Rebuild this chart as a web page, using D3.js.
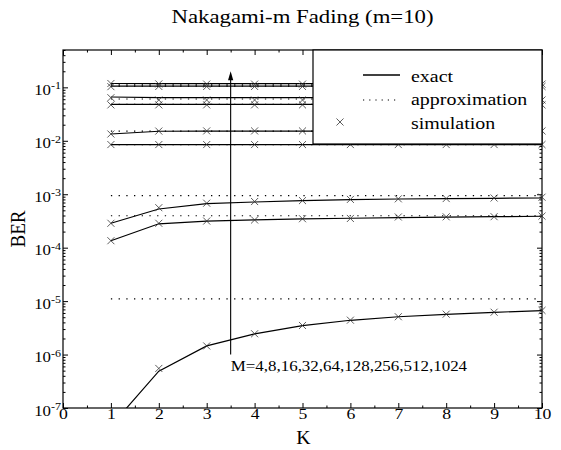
<!DOCTYPE html>
<html>
<head>
<meta charset="utf-8">
<script src="https://cdn.jsdelivr.net/npm/d3@7"></script>
<style>
  html, body { margin: 0; padding: 0; background: #fff; }
  svg { display: block; }
  text { font-family: "Liberation Serif", "Times New Roman", Times, serif; fill: #000; }
</style>
</head>
<body>
<svg id="chart" width="561" height="450"></svg>
<script>
// ---------------- data ----------------
const K = [1, 2, 3, 4, 5, 6, 7, 8, 9, 10];
const Mlabels = [4, 8, 16, 32, 64, 128, 256, 512, 1024];

// exact BER curves (one per M)
const exactM4    = [4.6e-8, 4.9e-7, 1.45e-6, 2.43e-6, 3.47e-6, 4.38e-6, 5.1e-6, 5.67e-6, 6.18e-6, 6.62e-6];
const exactM8    = [1.35e-4, 2.8e-4, 3.15e-4, 3.32e-4, 3.45e-4, 3.55e-4, 3.65e-4, 3.72e-4, 3.8e-4, 3.87e-4];
const exactM16   = [2.86e-4, 5.3e-4, 6.65e-4, 7.16e-4, 7.57e-4, 7.91e-4, 8.15e-4, 8.25e-4, 8.4e-4, 8.51e-4];
const exactM32   = [0.0085, 0.0085, 0.0085, 0.0085, 0.0085, 0.0085, 0.0085, 0.0085, 0.0085, 0.0085];
const exactM64   = [0.0134, 0.0151, 0.0152, 0.0152, 0.0152, 0.0152, 0.0152, 0.0152, 0.0152, 0.0152];
const exactM128  = [0.048, 0.048, 0.048, 0.048, 0.048, 0.048, 0.048, 0.048, 0.048, 0.048];
const exactM256  = [0.066, 0.0645, 0.064, 0.064, 0.064, 0.064, 0.064, 0.064, 0.064, 0.064];
const exactM512  = [0.105, 0.105, 0.105, 0.105, 0.105, 0.105, 0.105, 0.105, 0.105, 0.105];
const exactM1024 = [0.118, 0.117, 0.117, 0.117, 0.117, 0.117, 0.117, 0.117, 0.117, 0.117];

// approximation (flat in K)
const approxValues = [1.1e-5, 3.96e-4, 9.4e-4, 0.0085, 0.0152, 0.048, 0.0605, 0.105, 0.111];

// simulation points
const simM4    = [null, 5.5e-7, 1.45e-6, 2.45e-6, 3.5e-6, 4.4e-6, 5.1e-6, 5.7e-6, 6.2e-6, 6.7e-6];
const simM8    = [1.35e-4, 2.86e-4, 3.15e-4, 3.3e-4, 3.48e-4, 3.52e-4, 3.75e-4, 3.78e-4, 3.8e-4, 3.9e-4];
const simM16   = [2.86e-4, 5.6e-4, 6.8e-4, 7.3e-4, 7.6e-4, 8.0e-4, 8.2e-4, 8.3e-4, 8.5e-4, 8.8e-4];
const simM32   = [0.0085, 0.0085, 0.0085, 0.0085, 0.0085, 0.0085, 0.0085, 0.0085, 0.0085, 0.0085];
const simM64   = [0.0134, 0.0152, 0.0153, 0.0153, 0.0153, 0.0153, 0.0153, 0.0153, 0.0153, 0.0153];
const simM128  = [0.047, 0.047, 0.047, 0.047, 0.047, 0.047, 0.047, 0.047, 0.047, 0.047];
const simM256  = [0.064, 0.058, 0.058, 0.058, 0.058, 0.058, 0.058, 0.058, 0.058, 0.058];
const simM512  = [0.103, 0.104, 0.104, 0.104, 0.104, 0.104, 0.104, 0.104, 0.104, 0.104];
const simM1024 = [0.118, 0.116, 0.115, 0.115, 0.115, 0.115, 0.115, 0.115, 0.115, 0.115];

const xTicks = [0, 1, 2, 3, 4, 5, 6, 7, 8, 9, 10];
const yTickExps = [-7, -6, -5, -4, -3, -2, -1];
const legendLabels = ["exact", "approximation", "simulation"];
const titleText = "Nakagami-m Fading (m=10)";
const annotText = "M=4,8,16,32,64,128,256,512,1024";

const exactSeries = [exactM4, exactM8, exactM16, exactM32, exactM64, exactM128, exactM256, exactM512, exactM1024];
const simSeries = [simM4, simM8, simM16, simM32, simM64, simM128, simM256, simM512, simM1024];

// ---------------- layout ----------------
const L = 63, R = 542, T = 50, B = 408;
const svg = d3.select("#chart");
const x = d3.scaleLinear().domain([0, 10]).range([L, R]);
const y = d3.scaleLog().domain([1e-7, 0.5]).range([B, T]);

function stretchedText(g, px, py, str, size, anchor, sx) {
  const gg = g.append("g").attr("transform", `translate(${px},${py}) scale(${sx},1)`);
  return gg.append("text").attr("text-anchor", anchor || "start")
    .attr("font-size", size).text(str);
}

svg.append("defs").append("clipPath").attr("id", "plotclip")
  .append("rect").attr("x", L).attr("y", T).attr("width", R - L).attr("height", B - T);

// ---------------- axes ----------------
const majorY = yTickExps.map(e => Math.pow(10, e));
const minorY = [];
yTickExps.forEach(e => { for (let m = 2; m <= 9; m++) { const v = m * Math.pow(10, e); if (v <= 0.5) minorY.push(v); } });
const minorX = d3.range(0.5, 10, 1);

function styleAxis(g) {
  g.select(".domain").remove();
  g.selectAll(".tick line").attr("stroke", "#000").attr("stroke-width", 1);
}

// left
const ySX = 1.2;
const gLeft = svg.append("g").attr("transform", `translate(${L},0)`)
  .call(d3.axisLeft(y).tickValues(majorY).tickSizeInner(-5).tickSizeOuter(0).tickPadding(2)
    .tickFormat(() => "10"));
styleAxis(gLeft);
gLeft.selectAll(".tick text").each(function(d) {
  const t = d3.select(this);
  const e = Math.round(Math.log10(d));
  t.text(null).attr("dy", null).attr("y", 7).attr("x", -2 / ySX)
    .attr("transform", `scale(${ySX},1)`)
    .attr("font-size", 14).attr("font-family", "Liberation Serif, serif");
  t.append("tspan").text("10");
  t.append("tspan").attr("dy", -5.5).attr("font-size", 10).text(String(e));
});
const gLeftMinor = svg.append("g").attr("transform", `translate(${L},0)`)
  .call(d3.axisLeft(y).tickValues(minorY).tickSizeInner(-2.5).tickSizeOuter(0).tickFormat(""));
styleAxis(gLeftMinor);

// right
const gRight = svg.append("g").attr("transform", `translate(${R},0)`)
  .call(d3.axisRight(y).tickValues(majorY).tickSizeInner(-5).tickSizeOuter(0).tickFormat(""));
styleAxis(gRight);
const gRightMinor = svg.append("g").attr("transform", `translate(${R},0)`)
  .call(d3.axisRight(y).tickValues(minorY).tickSizeInner(-2.5).tickSizeOuter(0).tickFormat(""));
styleAxis(gRightMinor);

// bottom
const gBottom = svg.append("g").attr("transform", `translate(0,${B})`)
  .call(d3.axisBottom(x).tickValues(xTicks).tickSizeInner(-5).tickSizeOuter(0).tickPadding(0)
    .tickFormat(d3.format("d")));
styleAxis(gBottom);
gBottom.selectAll(".tick text").attr("font-size", 14.5).attr("font-family", "Liberation Serif, serif")
  .attr("transform", "scale(1.22,1)").attr("dy", null).attr("y", 11);
const gBottomMinor = svg.append("g").attr("transform", `translate(0,${B})`)
  .call(d3.axisBottom(x).tickValues(minorX).tickSizeInner(-2.5).tickSizeOuter(0).tickFormat(""));
styleAxis(gBottomMinor);

// top
const gTop = svg.append("g").attr("transform", `translate(0,${T})`)
  .call(d3.axisTop(x).tickValues(xTicks).tickSizeInner(-5).tickSizeOuter(0).tickFormat(""));
styleAxis(gTop);
const gTopMinor = svg.append("g").attr("transform", `translate(0,${T})`)
  .call(d3.axisTop(x).tickValues(minorX).tickSizeInner(-2.5).tickSizeOuter(0).tickFormat(""));
styleAxis(gTopMinor);

// frame
svg.append("rect").attr("x", L).attr("y", T).attr("width", R - L).attr("height", B - T)
  .attr("fill", "none").attr("stroke", "#000").attr("stroke-width", 1.2);

// ---------------- data marks ----------------
const plot = svg.append("g").attr("clip-path", "url(#plotclip)");

// approximations
plot.selectAll("path.approx").data(approxValues).join("path")
  .attr("class", "approx")
  .attr("d", v => d3.line().x(d => x(d)).y(() => y(v))([K[0], K[K.length - 1]]))
  .attr("fill", "none").attr("stroke", "#000").attr("stroke-width", 1.2)
  .attr("stroke-dasharray", "1.3,6.4");

// exact
const lineGen = d3.line().x((d, i) => x(K[i])).y(d => y(d));
plot.selectAll("path.exact").data(exactSeries).join("path")
  .attr("class", "exact").attr("d", lineGen)
  .attr("fill", "none").attr("stroke", "#000").attr("stroke-width", 1.2);

// simulation markers
const sym = d3.symbol(d3.symbolX, 34);
const simPts = [];
simSeries.forEach(s => s.forEach((v, i) => { if (v !== null) simPts.push([K[i], v]); }));
svg.append("g").selectAll("path").data(simPts).join("path")
  .attr("transform", d => `translate(${x(d[0])},${y(d[1])})`)
  .attr("d", sym).attr("fill", "none").attr("stroke", "#333").attr("stroke-width", 0.8);

// ---------------- arrow & annotation ----------------
const ax = x(3.5), ay0 = y(1e-6), ay1 = y(0.2);
svg.append("line").attr("x1", ax).attr("x2", ax).attr("y1", ay0).attr("y2", ay1 + 6)
  .attr("stroke", "#000").attr("stroke-width", 1.1);
svg.append("path").attr("d", `M${ax},${ay1}L${ax - 2.6},${ay1 + 9}L${ax + 2.6},${ay1 + 9}Z`)
  .attr("fill", "#000");
stretchedText(svg, ax, y(4.9e-7), annotText, 15, "start", 1.13);

// ---------------- titles ----------------
stretchedText(svg, (L + R) / 2, 23, titleText, 19, "middle", 1.2);
stretchedText(svg, 303.5, 444, "K", 18, "middle", 1.1);
svg.append("g").attr("transform", `translate(25,229) scale(1.13,1) rotate(-90)`)
  .append("text").attr("text-anchor", "middle").attr("font-size", 19).text("BER");

// ---------------- legend ----------------
const lg = svg.append("g");
lg.append("rect").attr("x", 313).attr("y", T).attr("width", R - 313).attr("height", 94)
  .attr("fill", "#fff").attr("stroke", "#000").attr("stroke-width", 1.2);
lg.append("line").attr("x1", 363).attr("x2", 400).attr("y1", 75).attr("y2", 75)
  .attr("stroke", "#000").attr("stroke-width", 1.3);
lg.append("line").attr("x1", 363).attr("x2", 400).attr("y1", 100).attr("y2", 100)
  .attr("stroke", "#000").attr("stroke-width", 1.2).attr("stroke-dasharray", "1.2,5");
lg.append("path").attr("transform", "translate(340,122)").attr("d", sym)
  .attr("fill", "none").attr("stroke", "#333").attr("stroke-width", 0.8);
const legendBaselines = [82, 105, 129];
legendLabels.forEach((t, i) => stretchedText(lg, 411, legendBaselines[i], t, 17.5, "start", 1.14));
</script>
</body>
</html>
